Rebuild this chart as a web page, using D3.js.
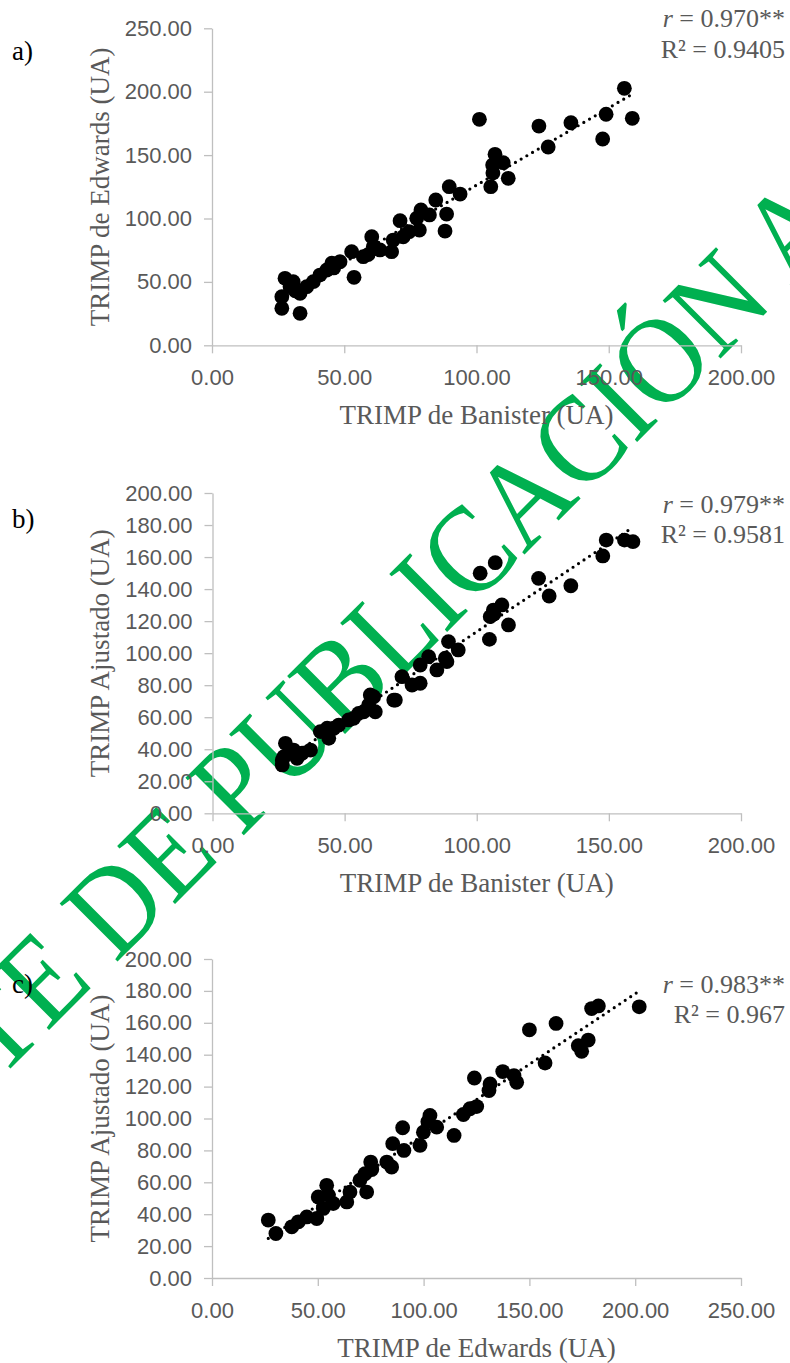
<!DOCTYPE html>
<html><head><meta charset="utf-8">
<script src="https://cdn.jsdelivr.net/npm/d3@7"></script>
<style>html,body{margin:0;padding:0;background:#fff;overflow:hidden}</style>
</head><body>
<svg id="chart" width="790" height="1363"></svg>
<script>
// ---------- DATA ----------
// Panel a: TRIMP de Banister (x) vs TRIMP de Edwards (y)
const banisterA = [101.1,123.6,135.7,155.9,149.0,158.9,147.7,127.1,107.0,106.1,110.1,112.0,105.4,106.2,89.7,93.8,88.7,88.1,84.6,79.0,82.2,71.1,77.4,78.4,74.5,72.3,68.5,67.9,60.4,61.0,63.5,57.2,52.8,53.7,48.4,45.3,43.4,40.8,38.3,35.8,33.3,30.7,27.6,26.4,26.4,33.3,29.5,31.5,59.0,46.0];
const edwardsA  = [178.2,172.9,175.5,202.7,182.2,179.0,162.7,156.4,150.6,142.2,144.0,131.7,125.1,135.9,125.1,119.3,103.5,90.1,114.6,106.7,102.8,98.3,100.2,90.9,89.6,85.6,83.0,73.8,85.6,77.8,75.2,69.9,73.8,53.6,65.9,64.7,59.4,55.4,50.2,46.2,41.0,50.2,52.8,38.3,29.2,25.2,46.2,43.0,71.5,61.0];

// Panel b: TRIMP de Banister (x) vs TRIMP Ajustado (y)
const banisterB = [101.3,107.0,123.4,127.4,135.6,149.0,147.7,155.9,159.1,106.3,109.5,105.1,112.0,104.8,89.3,93.0,88.1,88.7,84.9,81.8,78.6,71.7,75.5,78.6,69.2,59.7,61.6,59.1,55.3,51.5,47.8,43.4,40.8,44.0,37.1,33.9,27.6,30.7,27.0,26.4,32.0,26.4,61.0,68.6,57.2,53.4,45.9,106.5];
const ajustadoB = [149.9,156.5,146.7,135.7,142.1,170.6,160.7,170.6,169.6,126.9,130.1,122.8,117.6,108.6,107.2,102.0,96.8,94.7,89.5,97.8,92.6,85.3,80.1,81.2,70.7,73.9,63.4,67.6,62.4,58.3,55.1,53.1,51.0,46.8,39.5,37.5,43.7,39.5,35.3,30.2,34.3,33.3,72.8,70.7,63.4,59.3,53.1,124.5];

// Panel c: TRIMP de Edwards (x) vs TRIMP Ajustado (y)
const edwardsC  = [150.0,162.6,179.4,182.6,201.9,177.8,173.1,174.7,157.4,137.4,144.0,142.7,124.0,131.4,130.9,125.1,121.9,118.8,114.4,103.0,106.2,99.9,98.3,90.1,85.4,90.7,84.9,82.6,75.0,72.3,69.9,73.1,65.2,63.7,54.2,50.2,57.3,52.6,49.5,44.8,40.8,37.7,26.6,30.2,102.0,75.5,55.0];
const ajustadoC = [155.6,159.6,168.9,170.6,170.0,149.2,145.6,142.1,134.8,129.4,122.7,126.9,125.4,121.7,117.5,107.5,106.1,102.5,89.4,101.9,94.6,91.4,83.1,94.2,84.2,80.0,69.6,72.7,72.7,65.4,61.3,53.9,53.9,47.7,58.1,50.8,46.7,43.6,37.3,38.3,35.2,32.1,36.3,27.9,98.0,68.0,52.0];

// Tick values
const xTicksA = [0,50,100,150,200];
const yTicksA = [0,50,100,150,200,250];
const xTicksB = [0,50,100,150,200];
const yTicksB = [0,20,40,60,80,100,120,140,160,180,200];
const xTicksC = [0,50,100,150,200,250];
const yTicksC = [0,20,40,60,80,100,120,140,160,180,200];

// Labels
const panelLabels = ["a)","b)","c)"];
const xTitles = ["TRIMP de Banister (UA)","TRIMP de Banister (UA)","TRIMP de Edwards (UA)"];
const yTitles = ["TRIMP de Edwards (UA)","TRIMP Ajustado (UA)","TRIMP Ajustado (UA)"];
const rValues = ["0.970**","0.979**","0.983**"];
const r2Values = ["0.9405","0.9581","0.967"];
const watermarkBefore = "PENDIENTE DE";
const watermarkAfter = "PUBLICACIÓN A";

// ---------- LAYOUT ----------
const svg = d3.select("#chart");
const GRAY = "#595959", AXIS = "#BFBFBF";
const fmt = d3.format(".2f");
const serif = "'Liberation Serif', 'Times New Roman', serif";

// watermark (behind everything)
const wm = svg.append("g").attr("transform","translate(241,838) rotate(-45) scale(0.9,1)")
  .style("font-family",serif)
  .style("font-size","125px").attr("fill","#00B050");
wm.append("text").attr("x",-31).attr("y",0).attr("text-anchor","end").text(watermarkBefore);
wm.append("text").attr("x",0).attr("y",0).attr("text-anchor","start").text(watermarkAfter);

const panels = [
  {xs:banisterA, ys:edwardsA, xDom:[0,200], yDom:[0,250], xt:xTicksA, yt:yTicksA,
   left:212, right:741, bottom:345.3, top:28.3, labelY:60, rY:27, r2Y:58},
  {xs:banisterB, ys:ajustadoB, xDom:[0,200], yDom:[0,200], xt:xTicksB, yt:yTicksB,
   left:212.5, right:741, bottom:813.3, top:493, labelY:528, rY:513, r2Y:543},
  {xs:edwardsC, ys:ajustadoC, xDom:[0,250], yDom:[0,200], xt:xTicksC, yt:yTicksC,
   left:212, right:741, bottom:1278, top:959, labelY:993, rY:993, r2Y:1023}
];

function regression(xs, ys){
  const mx = d3.mean(xs), my = d3.mean(ys);
  let sxy=0, sxx=0;
  xs.forEach((x,i)=>{ sxy += (x-mx)*(ys[i]-my); sxx += (x-mx)*(x-mx); });
  const b = sxy/sxx, a = my - b*mx;
  return {a,b};
}

panels.forEach((p,i)=>{
  const x = d3.scaleLinear().domain(p.xDom).range([p.left,p.right]);
  const y = d3.scaleLinear().domain(p.yDom).range([p.bottom,p.top]);
  const g = svg.append("g");

  // axes
  const ax = g.append("g").attr("transform",`translate(0,${p.bottom})`)
    .call(d3.axisBottom(x).tickValues(p.xt).tickFormat(fmt).tickSize(8).tickSizeOuter(0));
  ax.selectAll("text").attr("dy",null).attr("y",40);
  const ay = g.append("g").attr("transform",`translate(${p.left},0)`)
    .call(d3.axisLeft(y).tickValues(p.yt).tickFormat(fmt).tickSize(8).tickPadding(12).tickSizeOuter(0));
  [ax,ay].forEach(a=>{
    a.select(".domain").attr("stroke",AXIS).attr("stroke-width",1.3);
    a.selectAll(".tick line").attr("stroke",AXIS).attr("stroke-width",1.3);
    a.selectAll("text").attr("fill",GRAY)
      .style("font-family","'Liberation Sans', Arial, sans-serif").style("font-size","22px");
  });

  // points
  const pts = p.xs.map((v,k)=>({x:v,y:p.ys[k]}));
  g.append("g").selectAll("circle").data(pts).join("circle")
    .attr("cx",d=>x(d.x)).attr("cy",d=>y(d.y)).attr("r",7.4).attr("fill","#000");

  // trendline
  const reg = regression(p.xs,p.ys);
  const ext = d3.extent(p.xs);
  g.append("path")
    .attr("d", d3.line().x(d=>x(d)).y(d=>y(reg.a+reg.b*d))(ext))
    .attr("fill","none").attr("stroke","#000").attr("stroke-width",3.2)
    .attr("stroke-linecap","round").attr("stroke-dasharray","0 6.6");

  // x title
  g.append("text").attr("x",(p.left+p.right)/2).attr("y",p.bottom+79)
    .attr("text-anchor","middle").attr("fill",GRAY)
    .style("font-family",serif).style("font-size","27px").text(xTitles[i]);
  // y title
  g.append("text").attr("transform",`translate(109,${(p.top+p.bottom)/2}) rotate(-90)`)
    .attr("text-anchor","middle").attr("fill",GRAY)
    .style("font-family",serif).style("font-size","27px").text(yTitles[i]);
  // panel label
  g.append("text").attr("x",12).attr("y",p.labelY).attr("fill","#000")
    .style("font-family",serif).style("font-size","27px").text(panelLabels[i]);
  // stats
  const t1 = g.append("text").attr("x",785).attr("y",p.rY).attr("text-anchor","end").attr("fill",GRAY)
    .style("font-family",serif).style("font-size","26px");
  t1.append("tspan").style("font-style","italic").text("r");
  t1.append("tspan").text(" = " + rValues[i]);
  g.append("text").attr("x",785).attr("y",p.r2Y).attr("text-anchor","end").attr("fill",GRAY)
    .style("font-family",serif).style("font-size","26px").text("R² = " + r2Values[i]);
});
</script>
</body></html>
